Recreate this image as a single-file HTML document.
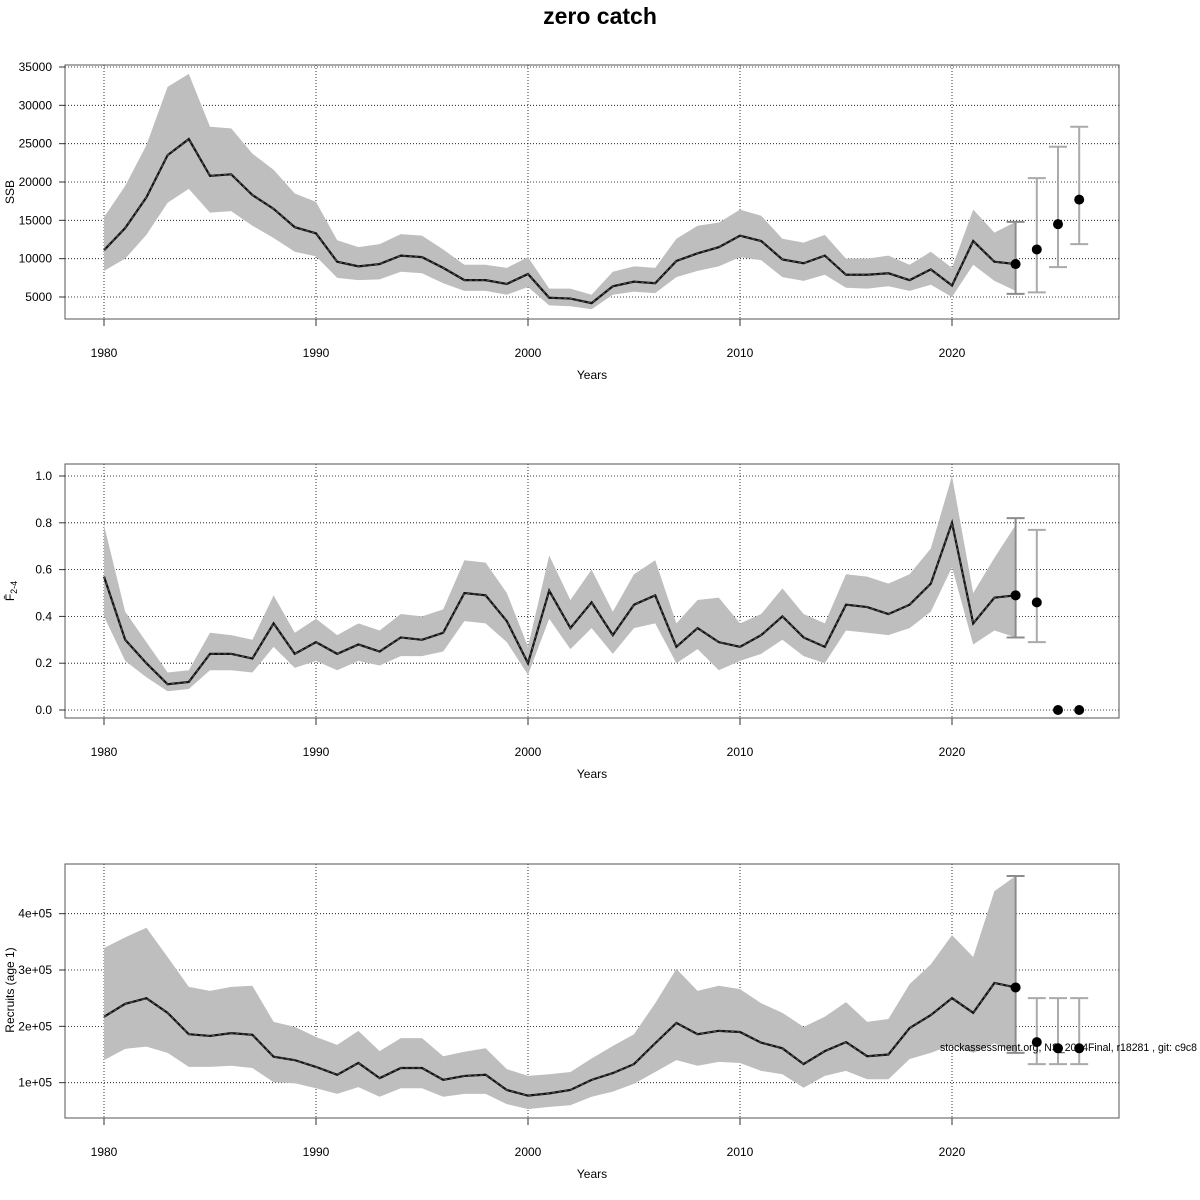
<!DOCTYPE html>
<html><head><meta charset="utf-8"><style>
html,body{margin:0;padding:0;background:#fff;}
svg{display:block;font-family:"Liberation Sans",sans-serif;}
</style></head><body>
<svg id="chart" width="1200" height="1200" viewBox="0 0 1200 1200" xmlns="http://www.w3.org/2000/svg">
<text x="600" y="24" text-anchor="middle" font-size="23" font-weight="bold">zero catch</text>
</svg>
<script>
const years = [1980,1981,1982,1983,1984,1985,1986,1987,1988,1989,1990,1991,1992,1993,1994,1995,1996,1997,1998,1999,2000,2001,2002,2003,2004,2005,2006,2007,2008,2009,2010,2011,2012,2013,2014,2015,2016,2017,2018,2019,2020,2021,2022,2023];
const projYears = [2023,2024,2025,2026];

const ssbMean = [11100,14000,18000,23500,25600,20800,21000,18300,16500,14100,13300,9600,9000,9300,10400,10200,8800,7200,7200,6700,8000,4900,4800,4200,6400,7000,6800,9700,10700,11500,13000,12300,9900,9400,10400,7900,7900,8100,7200,8600,6500,12300,9600,9300];
const ssbHigh = [15400,19500,24800,32400,34100,27200,27000,23700,21600,18500,17400,12400,11500,11900,13200,13000,11200,9200,9200,8800,10200,6100,6100,5300,8300,9000,8800,12600,14300,14700,16400,15600,12600,12100,13100,10000,10000,10400,9200,10900,8800,16400,13400,14800];
const ssbLow = [8400,10000,13100,17300,19100,16000,16200,14300,12700,10900,10300,7500,7200,7300,8300,8100,6800,5800,5800,5300,6300,3900,3800,3400,5300,5700,5500,7600,8400,9000,10200,9800,7600,7100,7900,6200,6100,6400,5800,6600,5000,9200,7100,5800];
const ssbProj = [9300,11200,14500,17700];
const ssbProjHigh = [14800,20500,24600,27200];
const ssbProjLow = [5400,5600,8900,11900];

const fMean = [0.57,0.30,0.20,0.11,0.12,0.24,0.24,0.22,0.37,0.24,0.29,0.24,0.28,0.25,0.31,0.30,0.33,0.50,0.49,0.38,0.20,0.51,0.35,0.46,0.32,0.45,0.49,0.27,0.35,0.29,0.27,0.32,0.40,0.31,0.27,0.45,0.44,0.41,0.45,0.54,0.80,0.37,0.48,0.49];
const fHigh = [0.79,0.42,0.29,0.16,0.17,0.33,0.32,0.30,0.49,0.33,0.39,0.32,0.37,0.34,0.41,0.40,0.43,0.64,0.63,0.50,0.27,0.66,0.47,0.60,0.42,0.58,0.64,0.37,0.47,0.48,0.37,0.41,0.52,0.41,0.37,0.58,0.57,0.54,0.58,0.69,1.00,0.50,0.65,0.79];
const fLow = [0.40,0.21,0.14,0.08,0.09,0.17,0.17,0.16,0.27,0.18,0.21,0.17,0.21,0.19,0.23,0.23,0.25,0.38,0.37,0.29,0.15,0.39,0.26,0.35,0.24,0.35,0.37,0.20,0.26,0.17,0.21,0.24,0.30,0.23,0.20,0.34,0.33,0.32,0.35,0.42,0.61,0.28,0.34,0.31];
const fProj = [0.49,0.46,0.0,0.0];
const fProjHigh = [0.82,0.77,null,null];
const fProjLow = [0.31,0.29,null,null];

const recMean = [2.17,2.40,2.50,2.24,1.86,1.83,1.88,1.85,1.46,1.40,1.28,1.14,1.35,1.08,1.26,1.26,1.05,1.12,1.14,0.87,0.77,0.81,0.87,1.05,1.17,1.33,1.70,2.06,1.86,1.92,1.90,1.71,1.61,1.33,1.56,1.72,1.47,1.50,1.97,2.20,2.50,2.24,2.77,2.69].map(v=>v*1e5);
const recHigh = [3.39,3.58,3.75,3.23,2.70,2.63,2.70,2.72,2.08,1.99,1.81,1.67,1.92,1.56,1.79,1.79,1.47,1.55,1.61,1.24,1.12,1.15,1.19,1.43,1.65,1.86,2.41,3.02,2.63,2.72,2.66,2.41,2.24,1.99,2.17,2.43,2.08,2.13,2.75,3.10,3.62,3.23,4.40,4.67].map(v=>v*1e5);
const recLow = [1.40,1.60,1.64,1.53,1.28,1.28,1.30,1.26,1.01,0.99,0.90,0.80,0.92,0.75,0.90,0.90,0.75,0.80,0.80,0.62,0.53,0.57,0.60,0.75,0.84,0.98,1.19,1.40,1.30,1.37,1.35,1.21,1.15,0.91,1.12,1.21,1.06,1.06,1.42,1.53,1.67,1.53,1.70,1.53].map(v=>v*1e5);
const recProj = [2.69e5,1.72e5,1.61e5,1.61e5];
const recProjHigh = [4.67e5,2.50e5,2.50e5,2.50e5];
const recProjLow = [1.53e5,1.33e5,1.33e5,1.33e5];

const xTicks = [1980,1990,2000,2010,2020];
const ssbTicks = [5000,10000,15000,20000,25000,30000,35000];
const ssbTickLabels = ["5000","10000","15000","20000","25000","30000","35000"];
const fTicks = [0,0.2,0.4,0.6,0.8,1.0];
const fTickLabels = ["0.0","0.2","0.4","0.6","0.8","1.0"];
const recTicks = [1e5,2e5,3e5,4e5];
const recTickLabels = ["1e+05","2e+05","3e+05","4e+05"];

const NS = "http://www.w3.org/2000/svg";
const svg = document.getElementById('chart');
const X0 = 65, X1 = 1119;
const xScale = y => 104 + (y - 1980) * 21.2;

function mk(tag, attrs, parent) {
  const e = document.createElementNS(NS, tag);
  for (const k in attrs) e.setAttribute(k, attrs[k]);
  (parent || svg).appendChild(e);
  return e;
}

function panel(cfg) {
  const g = mk('g', {});
  
  
  const ys = cfg.yScale;
  xTicks.forEach(t => {
    const l = mk('line', {x1: xScale(t), x2: xScale(t), y1: cfg.top, y2: cfg.bot, stroke: '#000', 'stroke-width': 0.8, 'stroke-dasharray': '1,2'}, g);
    
    
  });
  cfg.ticks.forEach(t => {
    const l = mk('line', {x1: X0, x2: X1, y1: ys(t), y2: ys(t), stroke: '#000', 'stroke-width': 0.8, 'stroke-dasharray': '1,2'}, g);
    
    
  });
  let d = '';
  years.forEach((y, i) => { d += (i ? 'L' : 'M') + xScale(y) + ',' + ys(cfg.high[i]); });
  for (let i = years.length - 1; i >= 0; i--) d += 'L' + xScale(years[i]) + ',' + ys(cfg.low[i]);
  const band = mk('path', {d: d + 'Z', fill: '#bebebe', stroke: 'none'}, g);
  
  
  let ld = '';
  years.forEach((y, i) => { ld += (i ? 'L' : 'M') + xScale(y) + ',' + ys(cfg.mean[i]); });
  const line = mk('path', {d: ld, fill: 'none', stroke: '#111', 'stroke-width': 2.2}, g);
  
  
  const line2 = mk('path', {d: ld, fill: 'none', stroke: '#555', 'stroke-width': 1, 'stroke-dasharray': '3,3'}, g);
  
  
  projYears.forEach((y, i) => {
    const hi = cfg.pHigh[i], lo = cfg.pLow[i];
    if (hi === null) return;
    const x = xScale(y);
    const col = i === 0 ? '#8c8c8c' : '#aaaaaa';
    const eb = mk('path', {d: `M${x},${ys(hi)}L${x},${ys(lo)}M${x-9},${ys(hi)}L${x+9},${ys(hi)}M${x-9},${ys(lo)}L${x+9},${ys(lo)}`, stroke: col, 'stroke-width': 2, fill: 'none'}, g);
    
    
  });
  projYears.forEach((y, i) => {
    const c = mk('circle', {cx: xScale(y), cy: ys(cfg.proj[i]), r: 5, fill: '#000'}, g);
    
    
  });
  const box = mk('rect', {x: X0, y: cfg.top, width: X1 - X0, height: cfg.bot - cfg.top, fill: 'none', stroke: '#555', 'stroke-width': 1}, g);
  
  
  xTicks.forEach(t => {
    const l = mk('line', {x1: xScale(t), x2: xScale(t), y1: cfg.bot, y2: cfg.bot + 7, stroke: '#333', 'stroke-width': 1}, g);
    
    
    const tx = mk('text', {x: xScale(t), y: cfg.bot + 38, 'text-anchor': 'middle', 'font-size': 12}, g);
    tx.textContent = t;
    
    
  });
  cfg.ticks.forEach((t, i) => {
    const l = mk('line', {x1: X0 - 6, x2: X0, y1: ys(t), y2: ys(t), stroke: '#333', 'stroke-width': 1}, g);
    
    
    const tx = mk('text', {x: X0 - 13, y: ys(t) + 4, 'text-anchor': 'end', 'font-size': 12}, g);
    tx.textContent = cfg.labels[i];
    
    
  });
  const xl = mk('text', {x: 592, y: cfg.bot + 60, 'text-anchor': 'middle', 'font-size': 12}, g);
  xl.textContent = 'Years';
  
  
  const yl = mk('text', {x: 0, y: 0, 'text-anchor': 'middle', 'font-size': 12, transform: `translate(14,${cfg.ylabelY}) rotate(-90)`}, g);
  
  
  if (cfg.fbar) {
    const t1 = mk('tspan', {}, yl); t1.textContent = 'F\u0304';
    const t2 = mk('tspan', {dy: 3, 'font-size': 9}, yl); t2.textContent = '2-4';
  } else yl.textContent = cfg.ylabel;
}

panel({name:'ssb', top:65, bot:319, yScale: v => 297 - (v - 5000) * 0.0076667,
  ticks: ssbTicks, labels: ssbTickLabels, mean: ssbMean, high: ssbHigh, low: ssbLow,
  proj: ssbProj, pHigh: ssbProjHigh, pLow: ssbProjLow, ylabel: 'SSB', ylabelY: 192});
panel({name:'fbar', top:464, bot:718, yScale: v => 710 - v * 234,
  ticks: fTicks, labels: fTickLabels, mean: fMean, high: fHigh, low: fLow,
  proj: fProj, pHigh: fProjHigh, pLow: fProjLow, fbar: true, ylabelY: 591});
panel({name:'recruits', top:864, bot:1118, yScale: v => 1139 - v / 1e5 * 56.33,
  ticks: recTicks, labels: recTickLabels, mean: recMean, high: recHigh, low: recLow,
  proj: recProj, pHigh: recProjHigh, pLow: recProjLow, ylabel: 'Recruits (age 1)', ylabelY: 990});

const wm = mk('text', {x: 940, y: 1051, 'font-size': 11, textLength: 257, lengthAdjust: 'spacingAndGlyphs'});
wm.textContent = 'stockassessment.org, NS_2024Final, r18281 , git: c9c8';


</script>
</body></html>
